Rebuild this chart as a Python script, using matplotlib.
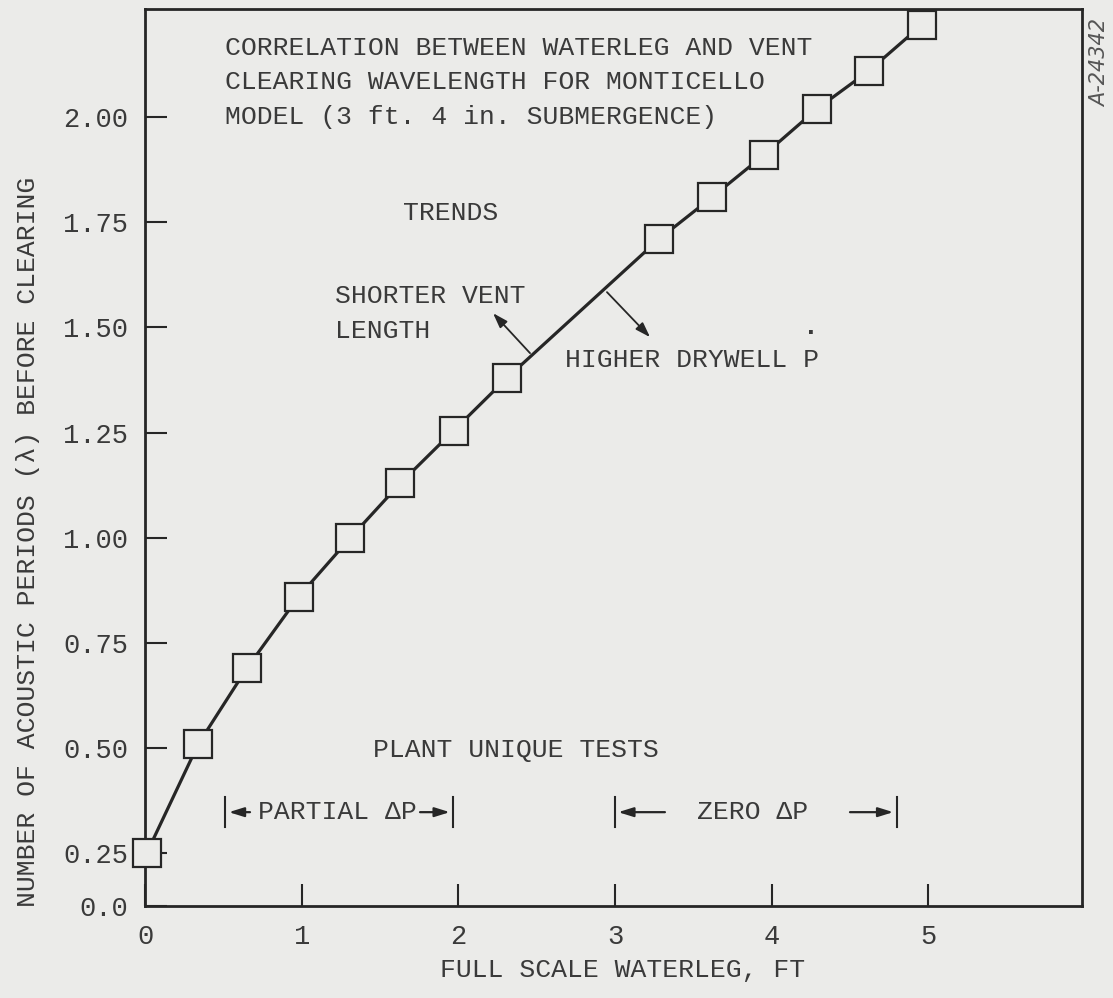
import numpy as np
import matplotlib
matplotlib.use("Agg")
import matplotlib.pyplot as plt

# Full scale waterleg (ft) vs. number of acoustic periods before clearing
waterleg_ft = [0.01, 0.34, 0.65, 0.98, 1.31, 1.63, 1.97, 2.31,
               3.28, 3.62, 3.95, 4.29, 4.62, 4.96]
acoustic_periods = [0.25, 0.51, 0.69, 0.86, 1.00, 1.13, 1.255, 1.38,
                    1.71, 1.81, 1.91, 2.02, 2.11, 2.22]

x_ticks = [0, 1, 2, 3, 4, 5]
x_tick_labels = ["0", "1", "2", "3", "4", "5"]
y_ticks = [0.0, 0.25, 0.50, 0.75, 1.00, 1.25, 1.50, 1.75, 2.00]
y_tick_labels = ["0.0", "0.25", "0.50", "0.75", "1.00", "1.25", "1.50", "1.75", "2.00"]

# test ranges (ft)
partial_dp_range = [0.51, 1.965]
zero_dp_range = [3.0, 4.80]

BG = "#ebebe9"
INK = "#262626"
TXT = "#3a3a3a"
FONT = ["Liberation Mono", "DejaVu Sans Mono"]

plt.rcParams["font.family"] = FONT


# the axis is broken below 0.25: that stretch is drawn at half scale
def _fwd(y):
    y = np.asarray(y, dtype=float)
    return np.where(y < 0.25, 0.125 + y * 0.5, y)


def _inv(v):
    v = np.asarray(v, dtype=float)
    return np.where(v < 0.25, (v - 0.125) * 2.0, v)


fig = plt.figure(figsize=(11.13, 9.98), dpi=100, facecolor=BG)
ax = fig.add_axes([0.1303, 0.0922, 0.8419, 0.8988], facecolor=BG)
ax.set_yscale("function", functions=(_fwd, _inv))
ax.set_xlim(0, 5.98)
ax.set_ylim(0, 2.257)

ax.plot(waterleg_ft, acoustic_periods, color=INK, lw=2.3, zorder=3,
        marker="s", ms=20, mfc=BG, mec=INK, mew=1.6, clip_on=False)

for sp in ax.spines.values():
    sp.set_color(INK)
    sp.set_linewidth(2.0)

ax.set_xticks(x_ticks)
ax.set_xticklabels(x_tick_labels)
ax.set_yticks(y_ticks)
ax.set_yticklabels(y_tick_labels)
ax.tick_params(direction="in", length=16, width=1.5, color=INK,
               labelsize=19.5, labelcolor=TXT, pad=12)
ax.tick_params(axis="x", pad=13)

fig.text(0.025, 0.457, "NUMBER OF ACOUSTIC PERIODS (\u03bb) BEFORE CLEARING",
         rotation=90, ha="center", va="center", fontsize=19, color=TXT)
fig.text(0.559, 0.028, "FULL SCALE WATERLEG, FT",
         ha="center", va="center", fontsize=19, color=TXT)

txt_kw = dict(fontsize=19, color=TXT, ha="left", va="center")
ax.text(0.51, 2.164, "CORRELATION BETWEEN WATERLEG AND VENT", **txt_kw)
ax.text(0.51, 2.083, "CLEARING WAVELENGTH FOR MONTICELLO", **txt_kw)
ax.text(0.51, 2.000, "MODEL (3 ft. 4 in. SUBMERGENCE)", **txt_kw)
ax.text(1.646, 1.772, "TRENDS", **txt_kw)
ax.text(1.213, 1.574, "SHORTER VENT", **txt_kw)
ax.text(1.213, 1.491, "LENGTH", **txt_kw)
ax.text(2.68, 1.422, "HIGHER DRYWELL P", **txt_kw)
ax.text(4.25, 1.50, ".", fontsize=19, color=TXT, ha="center", va="center",
        fontweight="bold")
ax.text(1.455, 0.495, "PLANT UNIQUE TESTS", **txt_kw)

# trend arrows from the curve
arw = dict(arrowstyle="-|>,head_length=0.9,head_width=0.3", color=INK, lw=1.3,
           shrinkA=0, shrinkB=0)
ax.annotate("", xy=(2.221, 1.534), xytext=(2.457, 1.439), arrowprops=arw)
ax.annotate("", xy=(3.223, 1.477), xytext=(2.948, 1.584), arrowprops=arw)

# test range brackets
yb = 0.348
hb = 0.036
for xs in partial_dp_range + zero_dp_range:
    ax.plot([xs, xs], [yb - hb, yb + hb], color=INK, lw=1.5)

head = dict(arrowstyle="-|>,head_length=0.9,head_width=0.28", color=INK, lw=1.6,
            shrinkA=0, shrinkB=0)
ax.annotate("", xy=(partial_dp_range[0] + 0.025, yb), xytext=(0.67, yb), arrowprops=head)
ax.annotate("", xy=(partial_dp_range[1] - 0.02, yb), xytext=(1.755, yb), arrowprops=head)
ax.text(0.72, yb, "PARTIAL \u0394P", **txt_kw)

ax.annotate("", xy=(zero_dp_range[0] + 0.02, yb), xytext=(3.318, yb), arrowprops=head)
ax.annotate("", xy=(zero_dp_range[1] - 0.025, yb), xytext=(4.499, yb), arrowprops=head)
ax.text(3.523, yb, "ZERO \u0394P", **txt_kw)

# drawing number
fig.text(0.988, 0.937, "A-24342", rotation=90, ha="center", va="center",
         fontsize=15, color="#555555", style="italic", family=["DejaVu Sans"])

fig.savefig("out.png", dpi=100, facecolor=BG)
